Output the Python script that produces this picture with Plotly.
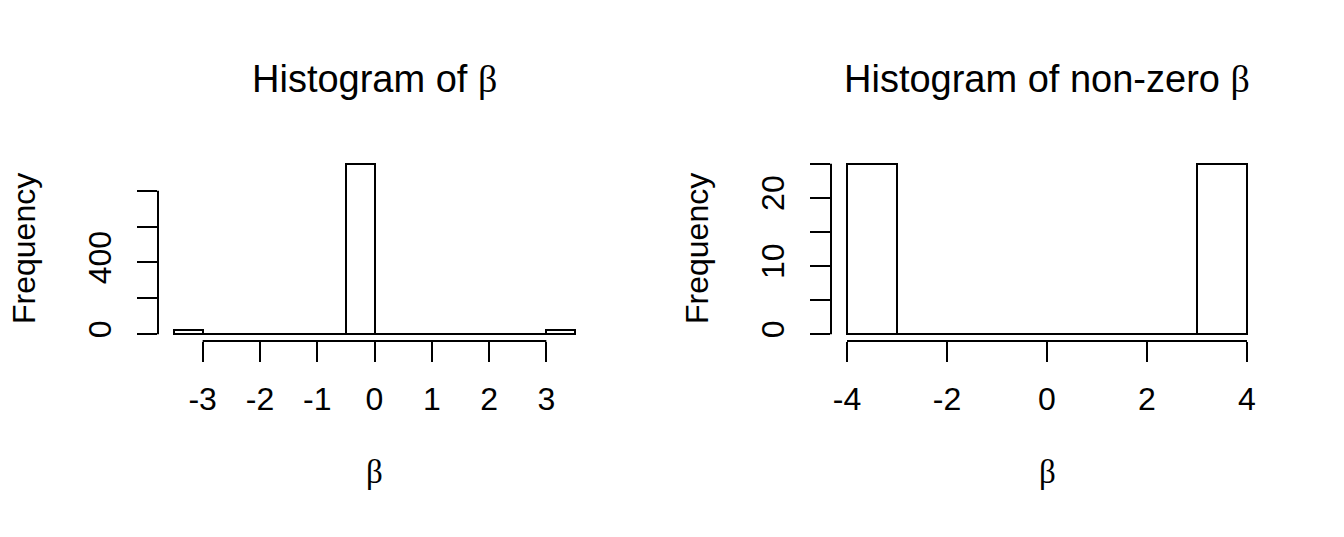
import plotly.graph_objects as go

# ---- data ----
left_edges = [-3.5, -3.0, -2.5, -2.0, -1.5, -1.0, -0.5, 0.0, 0.5, 1.0, 1.5, 2.0, 2.5, 3.0, 3.5]
left_counts = [25, 0, 0, 0, 0, 0, 950, 0, 0, 0, 0, 0, 0, 25]
right_edges = [-4, -3, -2, -1, 0, 1, 2, 3, 4]
right_counts = [25, 0, 0, 0, 0, 0, 0, 25]

left_xticks = [-3, -2, -1, 0, 1, 2, 3]
left_yticks = [0, 200, 400, 600, 800]
left_ytext = ["0", "", "400", "", ""]
right_xticks = [-4, -2, 0, 2, 4]
right_yticks = [0, 5, 10, 15, 20, 25]
right_ytext = ["0", "", "10", "", "20", ""]

titles = ["Histogram of ", "Histogram of non-zero "]

SANS = "Liberation Sans, Arial, Helvetica, sans-serif"
SERIF = "Liberation Serif, Times New Roman, serif"
BETA = '<span style="font-family:Liberation Serif">β</span>'

def centers(edges):
    return [(a + b) / 2 for a, b in zip(edges[:-1], edges[1:])]

def widths(edges):
    return [b - a for a, b in zip(edges[:-1], edges[1:])]

fig = go.Figure()
fig.add_trace(go.Bar(x=centers(left_edges), y=left_counts, width=widths(left_edges),
                     marker=dict(color="white", line=dict(color="black", width=2)),
                     xaxis="x", yaxis="y", showlegend=False))
fig.add_trace(go.Bar(x=centers(right_edges), y=right_counts, width=widths(right_edges),
                     marker=dict(color="white", line=dict(color="black", width=2)),
                     xaxis="x2", yaxis="y2", showlegend=False))

W, H = 1344, 537
ydom = [1 - 341 / H, 1 - 157 / H]
xdom1 = [158 / W, 591 / W]
xdom2 = [831 / W, 1263 / W]

def xr(edges):
    span = edges[-1] - edges[0]
    return [edges[0] - 0.04 * span, edges[-1] + 0.04 * span]

def yr(counts):
    m = max(counts)
    return [-0.04 * m, 1.04 * m]

axcommon = dict(showgrid=False, zeroline=False, showline=False, ticks="outside",
                ticklen=20, tickwidth=2, tickcolor="black",
                tickfont=dict(family=SANS, size=32, color="black"))

fig.update_layout(
    width=W, height=H, margin=dict(l=0, r=0, t=0, b=0),
    paper_bgcolor="white", plot_bgcolor="white", bargap=0,
    xaxis=dict(domain=xdom1, range=xr(left_edges), tickvals=left_xticks,
               ticktext=[str(v) for v in left_xticks], anchor="y",
               ticklabelstandoff=10, **axcommon),
    yaxis=dict(domain=ydom, range=yr(left_counts), tickvals=left_yticks,
               ticktext=left_ytext, tickangle=-90, anchor="x",
               ticklabelstandoff=13, **axcommon),
    xaxis2=dict(domain=xdom2, range=xr(right_edges), tickvals=right_xticks,
                ticktext=[str(v) for v in right_xticks], anchor="y2",
                ticklabelstandoff=10, **axcommon),
    yaxis2=dict(domain=ydom, range=yr(right_counts), tickvals=right_yticks,
                ticktext=right_ytext, tickangle=-90, anchor="x2",
                ticklabelstandoff=13, **axcommon),
)

# R-style axis lines spanning first to last tick
for xa, ya, xt, yt in [("x", "y", left_xticks, left_yticks), ("x2", "y2", right_xticks, right_yticks)]:
    fig.add_shape(type="line", xref=xa, yref=ya + " domain", x0=xt[0], x1=xt[-1], y0=0, y1=0,
                  line=dict(color="black", width=2))
    fig.add_shape(type="line", xref=xa + " domain", yref=ya, x0=0, x1=0, y0=yt[0], y1=yt[-1],
                  line=dict(color="black", width=2))

# titles and axis labels
for dom, t in [(xdom1, titles[0]), (xdom2, titles[1])]:
    cx = (dom[0] + dom[1]) / 2
    fig.add_annotation(x=cx, y=1 - 79 / H, xref="paper", yref="paper", showarrow=False,
                       text=t + BETA, font=dict(family=SANS, size=38, color="black"),
                       xanchor="center", yanchor="middle")
    fig.add_annotation(x=cx, y=1 - 472 / H, xref="paper", yref="paper", showarrow=False,
                       text="β", font=dict(family=SERIF, size=33, color="black"),
                       xanchor="center", yanchor="middle")

for xc in [24, 697]:
    fig.add_annotation(x=xc / W, y=(ydom[0] + ydom[1]) / 2, xref="paper", yref="paper",
                       showarrow=False, text="Frequency", textangle=-90,
                       font=dict(family=SANS, size=32, color="black"),
                       xanchor="center", yanchor="middle")

fig.write_html("out.html", config={"displayModeBar": False},
               post_script="document.body.style.margin='0';")
